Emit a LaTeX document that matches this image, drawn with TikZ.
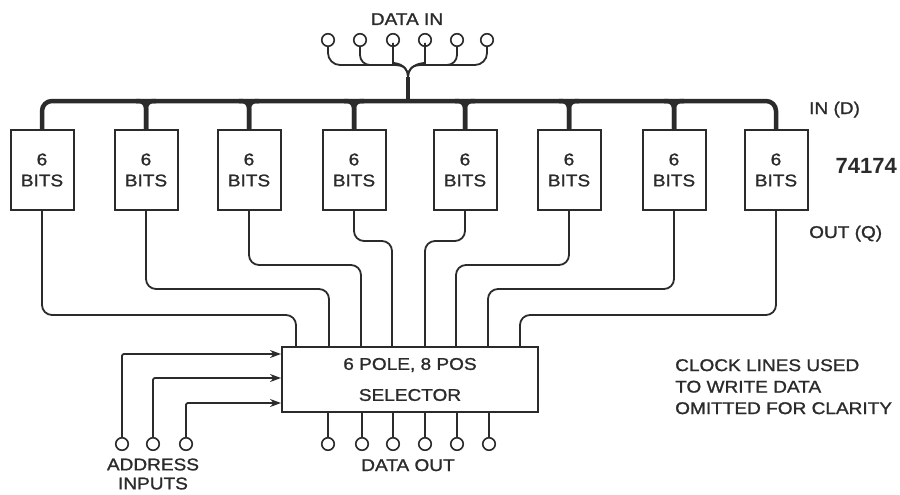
\documentclass[tikz,border=0pt]{standalone}
\usepackage{fontspec}
\setmainfont{Liberation Sans}[FakeStretch=1.12,FakeBold=1.2]
\newfontfamily\numfont{Liberation Sans}
\usetikzlibrary{arrows.meta,calc}
\definecolor{ink}{HTML}{2B2B2B}
\begin{document}
\begin{tikzpicture}[x=1pt,y=-1pt,
  txt/.style={font=\fontsize{17}{21}\selectfont, text=ink, inner sep=0pt},
  reg/.style={draw=ink, line width=2pt, minimum width=63pt, minimum height=80pt, align=center,
              font=\fontsize{17}{21}\selectfont, text=ink, inner sep=0pt},
  wire/.style={draw=ink, line width=1.8pt, rounded corners=10pt},
  bus/.style={draw=ink, line width=4.5pt},
  term/.style={circle, draw=ink, line width=1.6pt, fill=white, minimum size=12.5pt, inner sep=0pt},
  addrarrow/.style={wire, rounded corners=2pt, -{Stealth[length=11pt,width=8pt]}},
]
\useasboundingbox (0,0) rectangle (900,495);

% registers
\foreach \i/\x in {1/42,2/146,3/249,4/354,5/465,6/569,7/674,8/776}
  \node[reg] (b\i) at (\x,170) {6\\BITS};

% selector
\node[reg, minimum width=256pt, minimum height=65pt, font=\fontsize{17}{31}\selectfont] (sel) at (410,379.5) {6 POLE, 8 POS\\SELECTOR};

% terminals
\foreach \i/\x in {1/328,2/360,3/393,4/425,5/457,6/487}
  \node[term] (di\i) at (\x,40) {};
\foreach \i/\x in {1/328,2/362,3/393,4/425,5/457,6/489}
  \node[term] (do\i) at (\x,444) {};
\node[term] (a1) at (122,444) {};
\node[term] (a2) at (153,444) {};
\node[term] (a3) at (186,444) {};

% coordinates on the bus and selector
\coordinate (hub) at (408,101);
\coordinate (fork) at (408,77);
\coordinate (e1) at ($(sel.north west)+(15,0)$);
\coordinate (e2) at ($(sel.north west)+(48,0)$);
\coordinate (e3) at ($(sel.north west)+(80,0)$);
\coordinate (e4) at ($(sel.north west)+(111,0)$);
\coordinate (e5) at ($(sel.north west)+(144,0)$);
\coordinate (e6) at ($(sel.north west)+(175,0)$);
\coordinate (e7) at ($(sel.north west)+(207,0)$);
\coordinate (e8) at ($(sel.north west)+(239,0)$);

% data in tree
\draw[wire, rounded corners=12pt] (di1.south) |- (400,65);
\draw[wire, rounded corners=10pt] (di2.south) |- (400,65);
\draw[wire, rounded corners=12pt] (di6.south) |- (416,65);
\draw[wire, rounded corners=10pt] (di5.south) |- (416,65);
\draw[wire] (394,65) .. controls (404,65) and (408,69) .. (fork);
\draw[wire] (422,65) .. controls (412,65) and (408,69) .. (fork);
\draw[wire] (di3.south) -- (393,53) .. controls (393,63) and (408,63) .. (fork);
\draw[wire] (di4.south) -- (425,53) .. controls (425,63) and (408,63) .. (fork);
\draw[bus] (fork) -- (hub);

% input bus
\draw[bus, rounded corners=10pt] (b1.north) |- (hub) -| (b8.north);
\foreach \i in {2,...,7}{
  \draw[bus, rounded corners=7pt] ($(b\i.north |- hub)+(-10,0)$) -| (b\i.north);
  \draw[bus, rounded corners=7pt] ($(b\i.north |- hub)+(10,0)$) -| (b\i.north);
}

% outputs to selector
\draw[wire] (b1.south) |- ($(e1)+(0,-31)$) -- (e1);
\draw[wire] (b2.south) |- ($(e2)+(0,-57)$) -- (e2);
\draw[wire] (b3.south) |- ($(e3)+(0,-81)$) -- (e3);
\draw[wire] (b4.south) |- ($(e4)+(0,-105)$) -- (e4);
\draw[wire] (b5.south) |- ($(e5)+(0,-105)$) -- (e5);
\draw[wire] (b6.south) |- ($(e6)+(0,-81)$) -- (e6);
\draw[wire] (b7.south) |- ($(e7)+(0,-57)$) -- (e7);
\draw[wire] (b8.south) |- ($(e8)+(0,-31)$) -- (e8);

% data out
\foreach \i in {1,...,6}
  \draw[wire] (sel.south -| do\i) -- (do\i.north);

% address inputs
\draw[addrarrow] (a1.north) |- ($(sel.north west)+(0,8)$);
\draw[addrarrow] (a2.north) |- ($(sel.north west)+(0,32)$);
\draw[addrarrow] (a3.north) |- ($(sel.north west)+(0,57)$);

% labels
\node[txt, anchor=base] (datain) at (407,25) {DATA IN};
\node[txt, anchor=base west] (ind) at (809,114) {IN (D)};
\node[txt, anchor=base west] (outq) at (809,238) {OUT (Q)};
\node[anchor=base east, inner sep=0pt, text=ink, font=\fontsize{22}{26}\numfont\bfseries] (chip) at (897,173) {74174};
\node[txt, align=center, font=\fontsize{17}{19}\selectfont] (addr) at (153,474) {ADDRESS\\INPUTS};
\node[txt, anchor=base] (dout) at (408,471) {DATA OUT};
\node[txt, align=left, anchor=north west, font=\fontsize{17}{21.5}\selectfont] (clk) at (675,359) {CLOCK LINES USED\\TO WRITE DATA\\OMITTED FOR CLARITY};
\end{tikzpicture}
\end{document}
